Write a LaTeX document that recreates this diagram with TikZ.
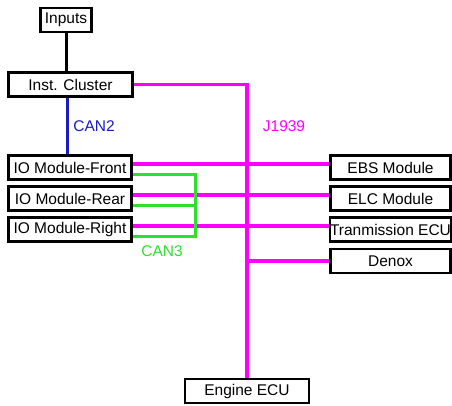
\documentclass[tikz,border=0pt]{standalone}
\usepackage{fontspec}
\setmainfont{Liberation Sans}
\usepackage{xcolor}
\usepackage{tikz}
\usetikzlibrary{
	calc, 
	positioning
}
\definecolor{jmag}{HTML}{FF00FF}
\definecolor{cantwo}{HTML}{1A1AC8}
\definecolor{canthr}{HTML}{2EE02E}
\tikzset{
	ecubox/.style={draw=black, line width=2.6pt, fill=white, inner sep=0pt, minimum height=24pt, font=\fontsize{15.5}{18}\selectfont},
	jbus/.style={jmag, line width=3.4pt},
	cantwobus/.style={cantwo, line width=3pt},
	canthrbus/.style={canthr, line width=3pt},
	buslabel/.style={font=\fontsize{15.5}{18}\selectfont}
}

\begin{document}
\begin{tikzpicture}[x=1pt, y=-1pt]
	\useasboundingbox (0,0) rectangle (452,405);
	\node[ecubox, minimum width=51pt] (inputs) at (66,20) {Inputs};
	\node[ecubox, minimum width=124pt] (cluster) at (70.5,84.5) {Inst. Cluster};
	\node[ecubox, minimum width=123pt] (front) at (70,167.5) {IO Module-Front};
	\node[ecubox, minimum width=123pt] (rear) at (70,198.5) {IO Module-Rear};
	\node[ecubox, minimum width=123pt] (right) at (70,229.5) {IO Module-Right};
	\node[ecubox, minimum width=120pt] (ebs) at (390.5,167.5) {EBS Module};
	\node[ecubox, minimum width=120pt] (elc) at (390.5,198.5) {ELC Module};
	\node[ecubox, minimum width=120pt] (trans) at (390.5,229.5) {Tranmission ECU};
	\node[ecubox, minimum width=120pt] (denox) at (390.5,261) {Denox};
	\node[ecubox, minimum width=124pt] (engine) at (247,391) {Engine ECU};
	\draw[line width=3pt] (inputs) -- (inputs |- cluster.north);
	\draw[cantwobus] (cluster.south -| 67,0) -- (front.north -| 67,0);
	\draw[jbus] (cluster.east) -| (engine.north);
	\draw[jbus] ([yshift=3.5pt]front.east) -- ([yshift=3.5pt]ebs.west);
	\draw[jbus] ([yshift=3.5pt]rear.east) -- ([yshift=3.5pt]elc.west);
	\draw[jbus] ([yshift=3.5pt]right.east) -- ([yshift=3.5pt]trans.west);
	\draw[jbus] (engine.north |- denox.west) -- (denox.west);
	\coordinate (can3) at (195,0);
	\draw[canthrbus] ([yshift=-6.5pt]front.east) -| ([yshift=-6.5pt]can3 |- right.east) -- ([yshift=-6.5pt]right.east);
	\draw[canthrbus] ([yshift=-6.5pt]rear.east) -- ([yshift=-6.5pt]can3 |- rear.east);
	\node[buslabel, text=cantwo] (lbltwo) at (94,126) {CAN2};
	\node[buslabel, text=jmag] (lblj) at (284,126) {J1939};
	\node[buslabel, text=canthr] (lblthr) at (162,251) {CAN3};
\end{tikzpicture}
\end{document}
